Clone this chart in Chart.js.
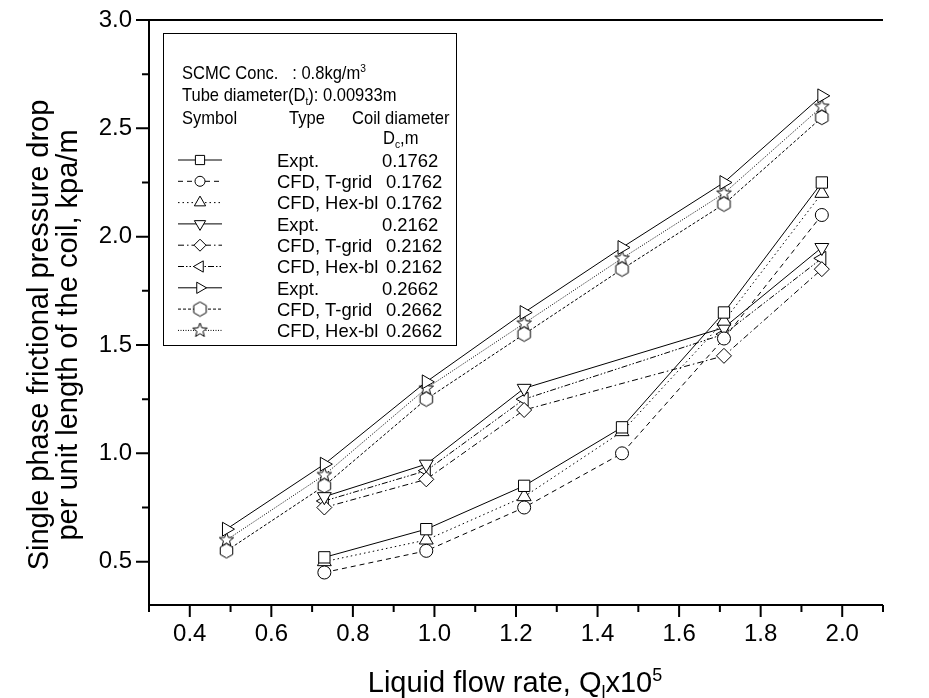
<!DOCTYPE html>
<html>
<head>
<meta charset="utf-8">
<script src="https://cdn.jsdelivr.net/npm/chart.js@4.4.0/dist/chart.umd.min.js"></script>
<style>
  html, body { margin: 0; padding: 0; background: #fff; }
  #wrap { width: 929px; height: 698px; }
</style>
</head>
<body>
<div id="wrap"><canvas id="chart" width="929" height="698"></canvas></div>
<script>
// Liquid flow rate (x10^5) for each coil
const flowRate2662 = [0.49, 0.73, 0.98, 1.22, 1.46, 1.71, 1.95];
const flowRate1762 = [0.73, 0.98, 1.22, 1.46, 1.71, 1.95];
const flowRate2162 = [0.73, 0.98, 1.22, 1.71, 1.95];

// Pressure drop, kpa/m
const expt1762  = [0.52, 0.65, 0.85, 1.12, 1.65, 2.25];
const tgrid1762 = [0.45, 0.55, 0.75, 1.00, 1.53, 2.10];
const hexbl1762 = [0.50, 0.60, 0.80, 1.10, 1.61, 2.20];
const expt2162  = [0.80, 0.95, 1.30, 1.58, 1.95];
const tgrid2162 = [0.75, 0.88, 1.20, 1.45, 1.85];
const hexbl2162 = [0.78, 0.92, 1.25, 1.55, 1.90];
const expt2662  = [0.65, 0.95, 1.33, 1.65, 1.95, 2.25, 2.65];
const tgrid2662 = [0.55, 0.85, 1.25, 1.55, 1.85, 2.15, 2.55];
const hexbl2662 = [0.60, 0.90, 1.30, 1.60, 1.90, 2.20, 2.60];

const xTicks = [0.4, 0.6, 0.8, 1.0, 1.2, 1.4, 1.6, 1.8, 2.0];
const xMinorTicks = [0.3, 0.5, 0.7, 0.9, 1.1, 1.3, 1.5, 1.7, 1.9, 2.1];
const yTicks = [0.5, 1.0, 1.5, 2.0, 2.5, 3.0];
const yMinorTicks = [0.75, 1.25, 1.75, 2.25, 2.75];

const FONT = "'Liberation Sans', Arial, sans-serif";

// hollow markers not built into Chart.js
function makeMarker(size, pathFn) {
  const c = document.createElement("canvas");
  c.width = c.height = size;
  const g = c.getContext("2d");
  g.translate(size / 2, size / 2);
  g.beginPath();
  pathFn(g);
  g.closePath();
  g.fillStyle = "#fff";
  g.fill();
  g.lineWidth = 1;
  g.strokeStyle = "#000";
  g.stroke();
  return c;
}
const hexagon = makeMarker(17, g => {
  for (let k = 0; k < 6; k++) {
    const a = -Math.PI / 2 + k * Math.PI / 3;
    g.lineTo(7.2 * Math.cos(a), 7.2 * Math.sin(a));
  }
});
const star = makeMarker(17, g => {
  for (let k = 0; k < 10; k++) {
    const a = -Math.PI / 2 + k * Math.PI / 5;
    const r = k % 2 ? 3.2 : 7.5;
    g.lineTo(r * Math.cos(a), r * Math.sin(a));
  }
});

function series(type, coil, xs, ys, style, rotation, dash, radius) {
  return {
    label: type, coil: coil,
    data: xs.map((x, i) => ({ x: x, y: ys[i] })),
    showLine: true,
    borderColor: "#000", borderWidth: 1, borderDash: dash,
    pointStyle: style, pointRotation: rotation, pointRadius: radius,
    pointBackgroundColor: "#fff", pointBorderColor: "#000", pointBorderWidth: 1
  };
}

const datasets = [
  series("Expt.", "0.1762", flowRate1762, expt1762, "rect", 0, [], 8),
  series("CFD, T-grid", "0.1762", flowRate1762, tgrid1762, "circle", 0, [5, 4], 6.5),
  series("CFD, Hex-bl", "0.1762", flowRate1762, hexbl1762, "triangle", 0, [1.5, 3], 8),
  series("Expt.", "0.2162", flowRate2162, expt2162, "triangle", 180, [], 8),
  series("CFD, T-grid", "0.2162", flowRate2162, tgrid2162, "rectRot", 0, [6, 3, 1.5, 3], 7.5),
  series("CFD, Hex-bl", "0.2162", flowRate2162, hexbl2162, "triangle", 270, [6, 2, 1.5, 2, 1.5, 2], 8),
  series("Expt.", "0.2662", flowRate2662, expt2662, "triangle", 90, [], 8),
  series("CFD, T-grid", "0.2662", flowRate2662, tgrid2662, hexagon, 0, [3, 2], 7),
  series("CFD, Hex-bl", "0.2662", flowRate2662, hexbl2662, star, 0, [1, 1.5], 7)
];

// text with sub/superscripts: parts = [[text, 0|-1|1], ...], k = horizontal squeeze
function richText(ctx, parts, x, y, size, k) {
  ctx.save();
  ctx.translate(x, y);
  ctx.scale(k || 1, 1);
  let cx = 0;
  parts.forEach(([t, s]) => {
    ctx.font = (s ? size * 0.62 : size) + "px " + FONT;
    const dy = s === 1 ? -size * 0.38 : s === -1 ? size * 0.22 : 0;
    ctx.fillText(t, cx, dy);
    cx += ctx.measureText(t).width;
  });
  ctx.restore();
  return cx * (k || 1);
}
function richWidth(ctx, parts, size) {
  let w = 0;
  parts.forEach(([t, s]) => { ctx.font = (s ? size * 0.62 : size) + "px " + FONT; w += ctx.measureText(t).width; });
  return w;
}

const framePlugin = {
  id: "frame",
  afterDraw(chart) {
    const { ctx, chartArea: a, scales: { x, y } } = chart;
    ctx.save();
    ctx.strokeStyle = "#000";
    ctx.fillStyle = "#000";
    ctx.lineWidth = 2;
    ctx.beginPath();
    ctx.moveTo(a.left, a.top); ctx.lineTo(a.right, a.top);
    ctx.moveTo(a.left, a.top); ctx.lineTo(a.left, a.bottom + 1);
    ctx.moveTo(a.left - 1, a.bottom); ctx.lineTo(a.right, a.bottom);
    xTicks.forEach(v => { const p = x.getPixelForValue(v); ctx.moveTo(p, a.bottom); ctx.lineTo(p, a.bottom + 12); });
    xMinorTicks.forEach(v => { const p = x.getPixelForValue(v); ctx.moveTo(p, a.bottom); ctx.lineTo(p, a.bottom + 7); });
    yTicks.forEach(v => { const p = y.getPixelForValue(v); ctx.moveTo(a.left, p); ctx.lineTo(a.left - 13, p); });
    yMinorTicks.forEach(v => { const p = y.getPixelForValue(v); ctx.moveTo(a.left, p); ctx.lineTo(a.left - 7, p); });
    ctx.stroke();

    // axis titles
    ctx.textBaseline = "alphabetic";
    ctx.textAlign = "left";
    const xParts = [["Liquid flow rate, Q", 0], ["l", -1], ["x10", 0], ["5", 1]];
    const w = richWidth(ctx, xParts, 29);
    richText(ctx, xParts, 515 - w / 2, 692, 29);

    ctx.save();
    ctx.rotate(-Math.PI / 2);
    ctx.textAlign = "center";
    ctx.font = "29px " + FONT;
    ctx.fillText("Single phase frictional pressure drop", -335, 48);
    ctx.fillText("per unit length of the coil, kpa/m", -335, 77);
    ctx.restore();

    // legend box
    const L = 163, T = 33, R = 456, B = 345;
    ctx.fillStyle = "#fff";
    ctx.fillRect(L, T, R - L, B - T);
    ctx.lineWidth = 1;
    ctx.strokeRect(L + 0.5, T + 0.5, R - L, B - T);
    ctx.fillStyle = "#000";
    ctx.textAlign = "left";
    const fs = 19, off = fs * 0.36, kh = 0.87, ke = 0.97;
    richText(ctx, [["SCMC Conc.   : 0.8kg/m", 0], ["3", 1]], 182, 72 + off, fs, kh);
    richText(ctx, [["Tube diameter(D", 0], ["t", -1], ["): 0.00933m", 0]], 182, 94 + off, fs, kh);
    richText(ctx, [["Symbol", 0]], 182, 117 + off, fs, kh);
    richText(ctx, [["Type", 0]], 289, 117 + off, fs, kh);
    richText(ctx, [["Coil diameter", 0]], 352, 117 + off, fs, kh);
    richText(ctx, [["D", 0], ["c", -1], [",m", 0]], 383, 137 + off, fs, kh);

    chart.data.datasets.forEach((ds, i) => {
      const cy = 160 + i * 21.3;
      ctx.setLineDash(ds.borderDash);
      ctx.lineWidth = 1;
      ctx.beginPath();
      ctx.moveTo(178, cy); ctx.lineTo(222, cy);
      ctx.stroke();
      ctx.setLineDash([]);
      ctx.fillStyle = "#fff";
      Chart.helpers.drawPoint(ctx, {
        pointStyle: ds.pointStyle, rotation: ds.pointRotation,
        radius: ds.pointRadius - 1.5, borderWidth: 1
      }, 200, cy);
      ctx.fillStyle = "#000";
      richText(ctx, [[ds.label, 0]], 277, cy + off, fs, ke);
      richText(ctx, [[ds.coil, 0]], ds.label === "Expt." ? 382 : 386, cy + off, fs, ke);
    });
    ctx.restore();
  }
};

new Chart(document.getElementById("chart"), {
  type: "scatter",
  data: { datasets: datasets },
  options: {
    responsive: false,
    animation: false,
    layout: { padding: { top: 20, right: 46, left: 0, bottom: 0 } },
    plugins: { legend: { display: false }, tooltip: { enabled: false } },
    scales: {
      x: {
        type: "linear", min: 0.3, max: 2.1,
        grid: { display: false, drawTicks: false },
        border: { display: false },
        afterBuildTicks: s => { s.ticks = xTicks.map(v => ({ value: v })); },
        afterFit: s => { s.height = 93; s.paddingLeft = 0; s.paddingRight = 0; },
        ticks: {
          color: "#000", font: { family: FONT, size: 24 }, padding: 15,
          maxRotation: 0, autoSkip: false, callback: v => v.toFixed(1)
        }
      },
      y: {
        type: "linear", min: 0.3, max: 3.0,
        grid: { display: false, drawTicks: false },
        border: { display: false },
        afterBuildTicks: s => { s.ticks = yTicks.map(v => ({ value: v })); },
        afterFit: s => { s.width = 149; s.paddingTop = 0; s.paddingBottom = 0; },
        ticks: {
          color: "#000", font: { family: FONT, size: 24 }, padding: 17,
          autoSkip: false, callback: v => v.toFixed(1)
        }
      }
    }
  },
  plugins: [framePlugin]
});
</script>
</body>
</html>
